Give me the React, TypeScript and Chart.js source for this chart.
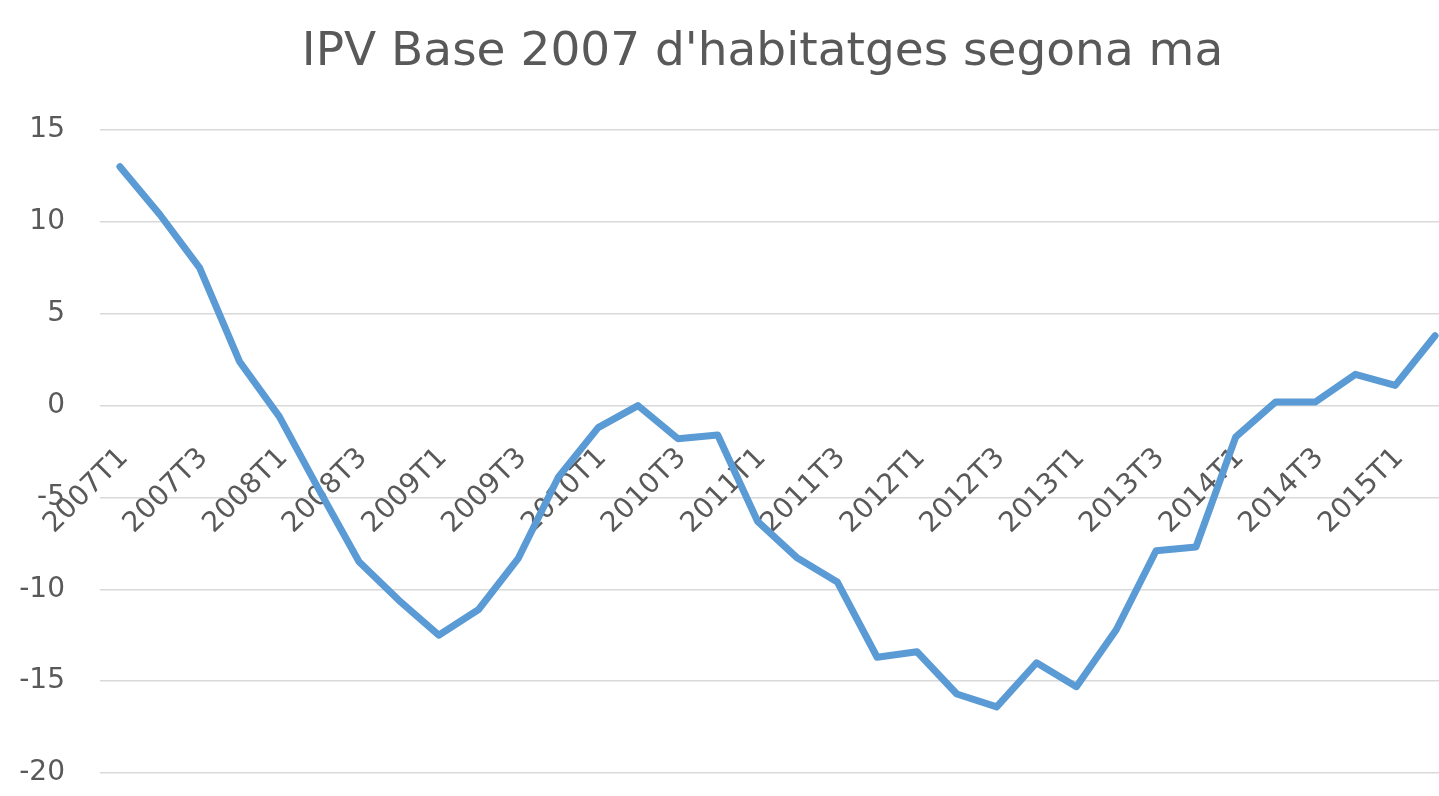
import React, { useEffect, useRef } from "react";
import { Chart, registerables } from "chart.js";

Chart.register(...registerables);

const titleText = "IPV Base 2007 d'habitatges segona ma";

const quarters = [
  "2007T1", "2007T2", "2007T3", "2007T4",
  "2008T1", "2008T2", "2008T3", "2008T4",
  "2009T1", "2009T2", "2009T3", "2009T4",
  "2010T1", "2010T2", "2010T3", "2010T4",
  "2011T1", "2011T2", "2011T3", "2011T4",
  "2012T1", "2012T2", "2012T3", "2012T4",
  "2013T1", "2013T2", "2013T3", "2013T4",
  "2014T1", "2014T2", "2014T3", "2014T4",
  "2015T1", "2015T2",
];

const ipvValues = [
  13.0, 10.4, 7.5, 2.4,
  -0.6, -4.6, -8.5, -10.6,
  -12.5, -11.1, -8.3, -3.9,
  -1.2, 0.0, -1.8, -1.6,
  -6.3, -8.3, -9.6, -13.7,
  -13.4, -15.7, -16.4, -14.0,
  -15.3, -12.2, -7.9, -7.7,
  -1.7, 0.2, 0.2, 1.7,
  1.1, 3.8,
];

const yTicks = [15, 10, 5, 0, -5, -10, -15, -20];

const textColor = "#595959";
const fontFamily = "'DejaVu Sans', 'Open Sans', sans-serif";

const shiftTitle = {
  id: "shiftTitle",
  afterLayout(chart: any) {
    const t = chart.titleBlock;
    if (t) {
      t.left += 35;
      t.right += 35;
    }
  },
};

export default function App() {
  const canvasRef = useRef<HTMLCanvasElement>(null);

  useEffect(() => {
    const prevMargin = document.body.style.margin;
    document.body.style.margin = "0";
    const chart = new Chart(canvasRef.current as HTMLCanvasElement, {
      type: "line",
      data: {
        labels: quarters,
        datasets: [
          {
            data: ipvValues,
            borderColor: "#5B9BD5",
            backgroundColor: "#5B9BD5",
            borderWidth: 7,
            pointRadius: 0,
            tension: 0,
            fill: false,
            borderCapStyle: "round",
            borderJoinStyle: "round",
          },
        ],
      },
      plugins: [shiftTitle],
      options: {
        responsive: false,
        animation: false,
        layout: { padding: { left: 0, right: 71, top: 0, bottom: 23 } },
        plugins: {
          legend: { display: false },
          tooltip: { enabled: false },
          title: {
            display: true,
            text: titleText,
            color: textColor,
            font: { family: fontFamily, size: 47, weight: "normal" },
            padding: { top: 25, bottom: 48.6 },
          },
        },
        scales: {
          x: {
            type: "category",
            offset: true,
            position: { y: 0 } as any,
            grid: { display: false, drawTicks: false },
            border: { display: false },
            afterFit: (s: any) => {
              s.height = 0;
              s.paddingLeft = 0;
              s.paddingRight = 0;
              s.paddingTop = 0;
              s.paddingBottom = 0;
            },
            ticks: {
              autoSkip: false,
              minRotation: 45,
              maxRotation: 45,
              padding: 36,
              labelOffset: 4,
              color: textColor,
              font: { family: fontFamily, size: 28 },
              callback: (_v: any, i: number) => (i % 2 === 0 ? quarters[i] : ""),
            },
          },
          y: {
            min: -20,
            max: 15,
            afterBuildTicks: (s: any) => {
              s.ticks = yTicks.map((v) => ({ value: v }));
            },
            afterFit: (s: any) => {
              s.width = 100;
              s.paddingTop = 0;
              s.paddingBottom = 0;
            },
            grid: { color: "#D9D9D9", lineWidth: 1.5, drawTicks: false },
            border: { display: false },
            ticks: {
              padding: 35,
              color: textColor,
              font: { family: fontFamily, size: 28 },
            },
          },
        },
      },
    });
    return () => {
      chart.destroy();
      document.body.style.margin = prevMargin;
    };
  }, []);

  return (
    <div
      style={{
        position: "fixed",
        left: 0,
        top: 0,
        width: 1439,
        height: 796,
        overflow: "hidden",
        background: "#ffffff",
      }}
    >
      <canvas ref={canvasRef} width={1526} height={796} style={{ display: "block" }} />
    </div>
  );
}
